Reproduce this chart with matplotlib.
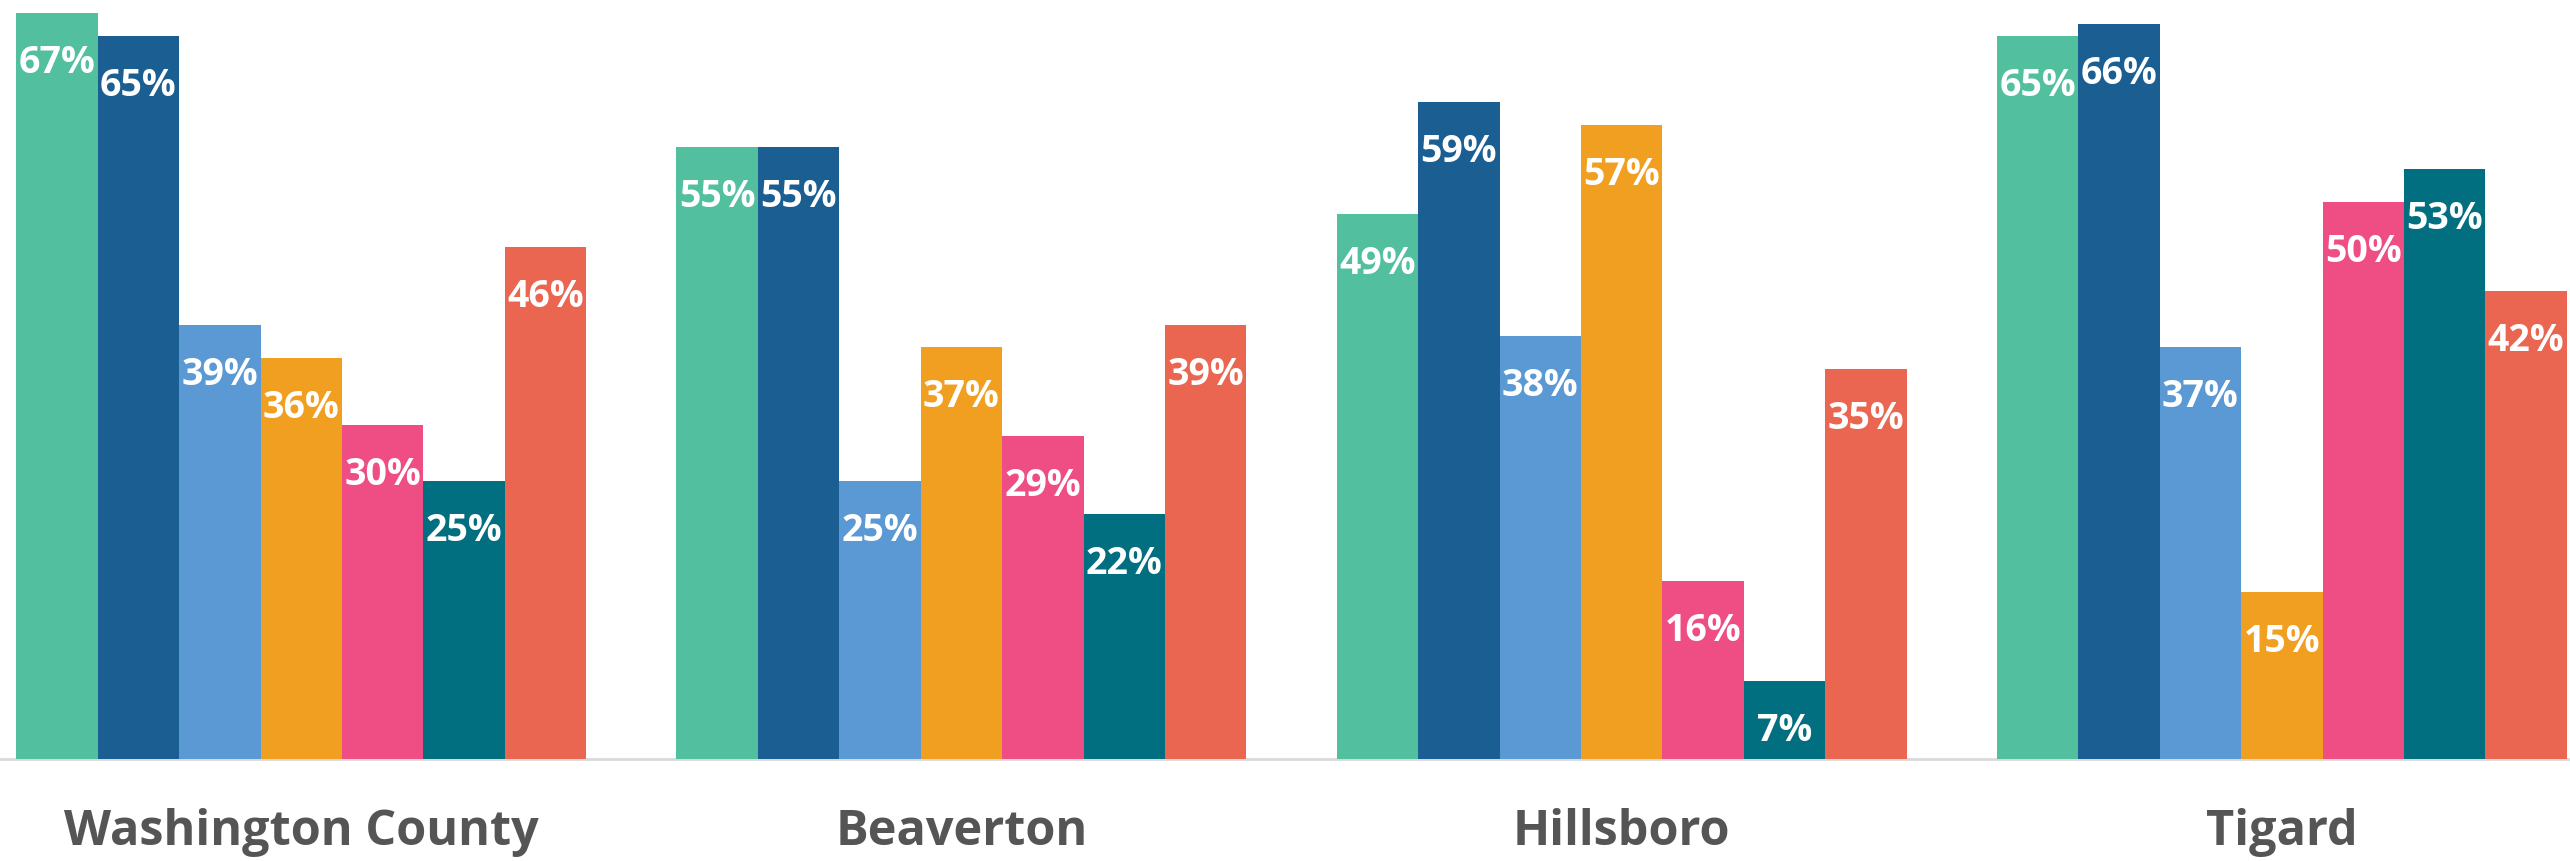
import numpy as np
import matplotlib
matplotlib.use("Agg")
import matplotlib.pyplot as plt

# places and the seven series (percent)
places = ["Washington County", "Beaverton", "Hillsboro", "Tigard"]
s1 = [67, 55, 49, 65]
s2 = [65, 55, 59, 66]
s3 = [39, 25, 38, 37]
s4 = [36, 37, 57, 15]
s5 = [30, 29, 16, 50]
s6 = [25, 22, 7, 53]
s7 = [46, 39, 35, 42]
series = [s1, s2, s3, s4, s5, s6, s7]
colors = ["#52BF9E", "#1A5E92", "#5A99D3", "#F19F20", "#EE4E83", "#016F80", "#EA6650"]

plt.rcParams['font.family'] = ['Open Sans', 'DejaVu Sans']

fig = plt.figure(figsize=(25.7, 8.61), dpi=100)
ax = fig.add_axes([0, 0, 1, 1])

group_step = 8.11
n = len(series)
base = np.arange(len(places)) * group_step

for j, (vals, c) in enumerate(zip(series, colors)):
    xs = base + j + 0.5
    ax.bar(xs, vals, width=1.0, color=c, linewidth=0)
    for x, v in zip(xs, vals):
        ax.annotate(f"{v}%", (x, v), xytext=(0, -36), textcoords="offset points",
                    ha="center", va="center", color="white", fontsize=27,
                    fontweight="bold")

ax.axhline(0, color="#d9d9d9", linewidth=2, zorder=0)

for x, name in zip(base + n / 2, places):
    ax.text(x, -6.6, name, ha="center", va="center", color="#555555",
            fontsize=35, fontweight="bold")

ax.set_xlim(-0.2, base[-1] + n + 0.04)
ax.set_ylim(-9.2, 68.2)
ax.axis("off")

fig.savefig("out.png", dpi=100, facecolor="white")
